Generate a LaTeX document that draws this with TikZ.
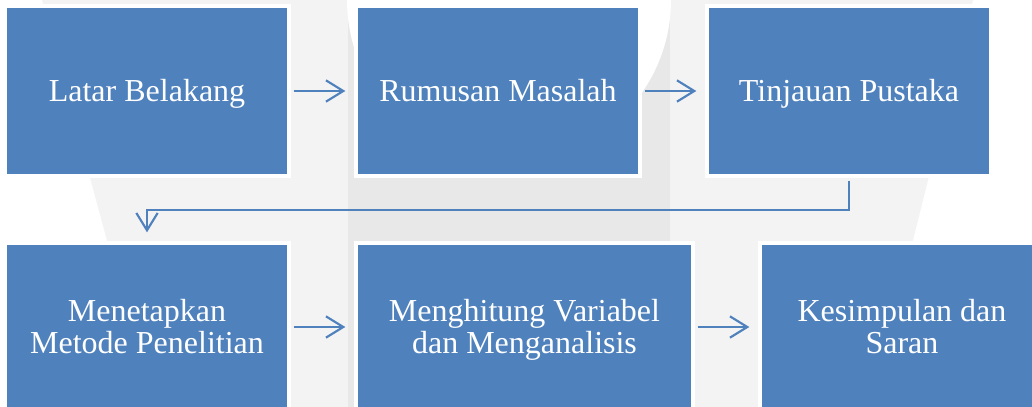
\documentclass[tikz,border=0pt]{standalone}
\usepackage{fontspec}
\setmainfont{Liberation Serif}
\usetikzlibrary{arrows.meta,calc}
\definecolor{boxblue}{RGB}{79,129,189}
\definecolor{wmlight}{RGB}{243,243,243}
\definecolor{wmdark}{RGB}{232,232,232}
\newcommand{\firstln}[1]{\vphantom{L}\smash{#1}}
\newcommand{\nextln}[1]{\smash{#1}}
\begin{document}
\begin{tikzpicture}[x=0.75pt,y=-0.75pt,
  stepbox/.style={rectangle,fill=boxblue,draw=white,line width=3pt,
    text=white,align=center,inner sep=0pt,
    font=\fontsize{24}{24.5}\selectfont},
  conn/.style={draw=boxblue,line width=1.6pt,
    -{Straight Barb[length=13pt,width=16pt,line width=1.6pt]},
    shorten <=2pt, shorten >=6.5pt}]
\useasboundingbox (0,0) rectangle (1032,407);
\clip (0,0) rectangle (1032,407);
\fill[white] (0,0) rectangle (1032,407);
% watermark
\fill[wmlight] (42,0) -- (973,0) -- (913,240) -- (871,407) -- (152,407) -- cycle;
\fill[wmdark] (348,0) rectangle (670,407);
\fill[white] (509,0) circle[radius=162];
% boxes
\node[stepbox,minimum width=284*0.75pt,minimum height=170*0.75pt] (n1) at (147,91) {\firstln{Latar Belakang}};
\node[stepbox,minimum width=284*0.75pt,minimum height=170*0.75pt] (n2) at (498,91) {\firstln{Rumusan Masalah}};
\node[stepbox,minimum width=284*0.75pt,minimum height=170*0.75pt] (n3) at (849,91) {\firstln{Tinjauan Pustaka}};
\node[stepbox,minimum width=284*0.75pt,minimum height=168*0.75pt] (n4) at (147,327) {\firstln{Menetapkan}\\\nextln{Metode Penelitian}};
\node[stepbox,minimum width=337*0.75pt,minimum height=168*0.75pt] (n5) at (524.5,327) {\firstln{Menghitung Variabel}\\\nextln{dan Menganalisis}};
\node[stepbox,minimum width=284*0.75pt,minimum height=168*0.75pt] (n6) at (902,327) {\firstln{Kesimpulan dan}\\\nextln{Saran}};
% connectors
\coordinate (bend) at (849,210);
\draw[conn] (n1) -- (n2);
\draw[conn] (n2) -- (n3);
\draw[conn] (n4) -- (n5);
\draw[conn] (n5) -- (n6);
\draw[conn] (n3.south) -- (bend) -| (n4.north);
\end{tikzpicture}
\end{document}
